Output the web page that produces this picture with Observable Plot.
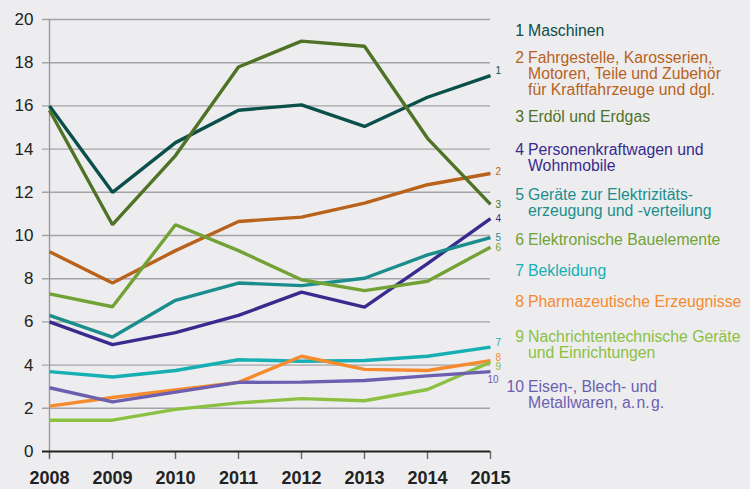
<!DOCTYPE html>
<html><head><meta charset="utf-8">
<script src="https://cdn.jsdelivr.net/npm/d3@7"></script>
<script src="https://cdn.jsdelivr.net/npm/@observablehq/plot@0.6"></script>
<style>
html,body{margin:0;padding:0;background:#ededef;}
#wrap{position:relative;width:750px;height:489px;background:#ededef;font-family:"Liberation Sans",Arial,sans-serif;overflow:hidden;}
#wrap svg{position:absolute;left:0;top:0;}
.entry{position:absolute;left:500px;width:250px;display:flex;font-size:15.8px;line-height:16px;}
.entry .num{flex:0 0 24px;text-align:right;padding-right:4px;}
.entry .txt{flex:1;white-space:nowrap;}
</style>
</head><body>
<div id="wrap"></div>
<script>
const years = [2008, 2009, 2010, 2011, 2012, 2013, 2014, 2015];
const yTicks = [0, 2, 4, 6, 8, 10, 12, 14, 16, 18, 20];
const names = [
  "Maschinen",
  "Fahrgestelle, Karosserien,<br>Motoren, Teile und Zubehör<br>für Kraftfahrzeuge und dgl.",
  "Erdöl und Erdgas",
  "Personenkraftwagen und<br>Wohnmobile",
  "Geräte zur Elektrizitäts-<br>erzeugung und -verteilung",
  "Elektronische Bauelemente",
  "Bekleidung",
  "Pharmazeutische Erzeugnisse",
  "Nachrichtentechnische Geräte<br>und Einrichtungen",
  "Eisen-, Blech- und<br>Metallwaren, a.\u200An.\u200Ag."
];
const s1  = [16.0, 12.0, 14.3, 15.8, 16.05, 15.05, 16.4, 17.4];
const s2  = [9.25, 7.8, 9.3, 10.65, 10.85, 11.5, 12.35, 12.87];
const s3  = [15.8, 10.5, 13.7, 17.8, 19.0, 18.76, 14.5, 11.44];
const s4  = [6.0, 4.95, 5.5, 6.3, 7.38, 6.68, 8.7, 10.78];
const s5  = [6.3, 5.3, 7.0, 7.8, 7.68, 8.02, 9.1, 9.9];
const s6  = [7.3, 6.7, 10.5, 9.3, 7.95, 7.45, 7.88, 9.46];
const s7  = [3.7, 3.45, 3.75, 4.25, 4.18, 4.21, 4.41, 4.83];
const s8  = [2.1, 2.5, 2.85, 3.2, 4.41, 3.8, 3.75, 4.21];
const s9  = [1.45, 1.45, 1.95, 2.25, 2.45, 2.35, 2.87, 4.13];
const s10 = [2.95, 2.3, 2.75, 3.2, 3.21, 3.29, 3.5, 3.7];
const series = [s1, s2, s3, s4, s5, s6, s7, s8, s9, s10];
const colors = ["#0b4f4a", "#b8621c", "#4f7226", "#3a2a8e", "#1b8d8c", "#72a236", "#16afb3", "#f58a2e", "#8cc043", "#6c5fb0"];
const endDy = [-5, -2, 0, 0, 0, 1, -4, -3, 5, 8];
const endDx = [5, 5, 5, 5, 5, 5, 5, 5, 5, -3];
const legendTop = [23, 50, 109, 142, 187, 232, 263, 294, 329, 379];

const lineMarks = series.map((vals, i) =>
  Plot.line(years.map((y, j) => ({year: y, value: vals[j]})), {
    x: "year", y: "value", stroke: colors[i], strokeWidth: 3.4,
    strokeLinejoin: "miter", strokeLinecap: "butt"
  })
);
const labelMarks = series.map((vals, i) =>
  Plot.text([{year: years[years.length - 1], value: vals[vals.length - 1]}], {
    x: "year", y: "value", text: () => String(i + 1), fill: colors[i],
    textAnchor: "start", dx: endDx[i], dy: endDy[i], fontSize: 10
  })
);

const chart = Plot.plot({
  width: 750, height: 489,
  marginLeft: 49, marginRight: 260, marginTop: 19, marginBottom: 38,
  style: {background: "transparent", fontFamily: "'Liberation Sans', Arial, sans-serif", overflow: "visible"},
  x: {domain: [2008, 2015], label: null},
  y: {domain: [0, 20], label: null},
  marks: [
    Plot.ruleY(yTicks.filter(d => d > 0), {stroke: "#a4a4a6", strokeWidth: 1.4, insetLeft: -7}),
    Plot.ruleX([2008], {stroke: "#9a9a9c", strokeWidth: 1.4, insetBottom: -6}),
    Plot.axisY({ticks: yTicks, tickSize: 0, tickPadding: 16, fontSize: 17, color: "#222", label: null, tickFormat: d => String(d)}),
    Plot.axisX({ticks: years, tickSize: 8, tickPadding: 12, fontSize: 18, fontWeight: "bold", color: "#222", stroke: "#666", strokeWidth: 1.4, label: null, tickFormat: d => String(d)}),
    ...lineMarks,
    Plot.ruleY([0], {stroke: "#222", strokeWidth: 2, insetLeft: -7}),
    ...labelMarks
  ]
});
const wrap = document.getElementById("wrap");
wrap.appendChild(chart);
names.forEach((n, i) => {
  const e = document.createElement("div");
  e.className = "entry";
  e.style.top = legendTop[i] + "px";
  e.style.color = colors[i];
  e.innerHTML = `<span class="num">${i + 1}</span><span class="txt">${n}</span>`;
  wrap.appendChild(e);
});
</script>
</body></html>
